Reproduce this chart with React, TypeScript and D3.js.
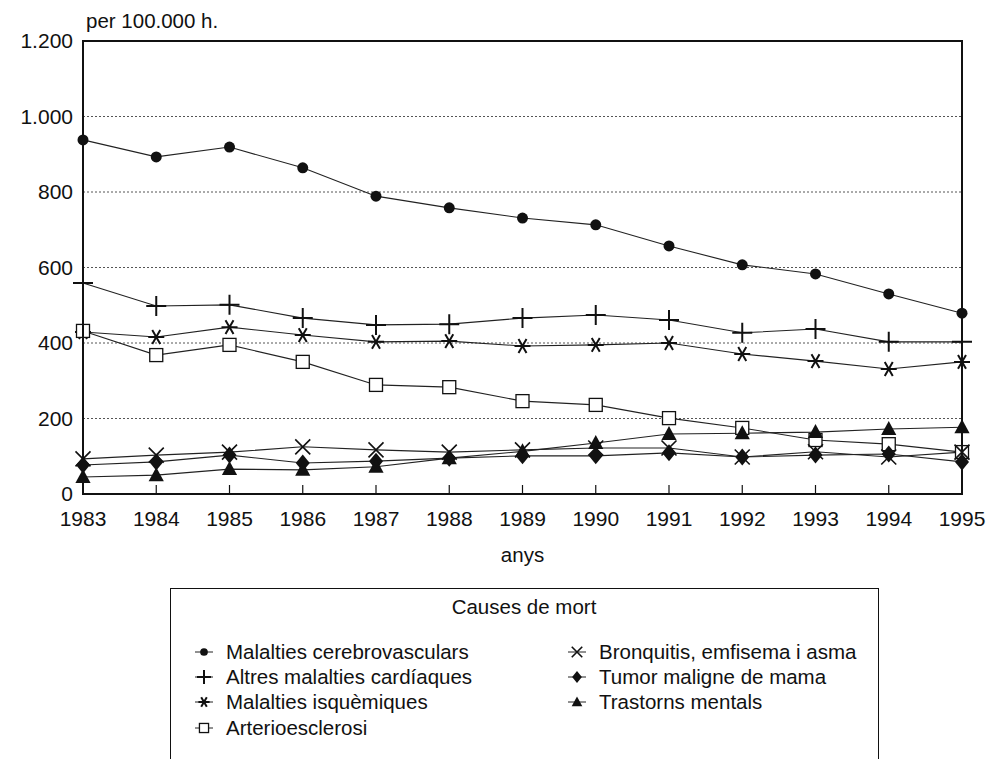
import React from 'react';
import * as d3 from 'd3';

const years = [1983, 1984, 1985, 1986, 1987, 1988, 1989, 1990, 1991, 1992, 1993, 1994, 1995];
const cerebrovasculars = [938, 893, 919, 864, 789, 758, 731, 713, 657, 607, 583, 530, 479];
const cardiaques = [559, 498, 501, 466, 448, 450, 466, 474, 461, 427, 437, 403, 403];
const isquemiques = [429, 416, 442, 421, 403, 405, 392, 395, 400, 371, 352, 331, 350];
const arterioesclerosi = [432, 368, 395, 350, 289, 283, 246, 236, 201, 175, 143, 132, 111];
const bronquitis = [93, 103, 111, 125, 117, 111, 117, 122, 122, 98, 112, 98, 111];
const tumorMama = [77, 85, 103, 82, 87, 95, 101, 101, 109, 98, 103, 106, 85];
const trastorns = [45, 50, 66, 64, 72, 95, 113, 135, 159, 161, 164, 172, 177];
const yTicks = [0, 200, 400, 600, 800, 1000, 1200];

type Sym = 'circle' | 'plus' | 'star' | 'square' | 'x' | 'diamond' | 'triangle';
const series: { name: string; values: number[]; sym: Sym }[] = [
  { name: 'Malalties cerebrovasculars', values: cerebrovasculars, sym: 'circle' },
  { name: 'Altres malalties cardíaques', values: cardiaques, sym: 'plus' },
  { name: 'Malalties isquèmiques', values: isquemiques, sym: 'star' },
  { name: 'Arterioesclerosi', values: arterioesclerosi, sym: 'square' },
  { name: 'Bronquitis, emfisema i asma', values: bronquitis, sym: 'x' },
  { name: 'Tumor maligne de mama', values: tumorMama, sym: 'diamond' },
  { name: 'Trastorns mentals', values: trastorns, sym: 'triangle' },
];

const locale = d3.formatLocale({ decimal: ',', thousands: '.', grouping: [3], currency: ['', ''] });
const fmt = locale.format(',');

function Marker({ sym, x, y, s = 1 }: { sym: Sym; x: number; y: number; s?: number }) {
  const c = '#111';
  switch (sym) {
    case 'circle':
      return <circle cx={x} cy={y} r={5.5 * s} fill={c} />;
    case 'plus': {
      const h = 10 * s;
      return <path d={`M${x - h},${y}H${x + h}M${x},${y - h}V${y + h}`} stroke={c} strokeWidth={2} fill="none" />;
    }
    case 'star': {
      const h = 8 * s;
      const a = h * Math.cos(Math.PI / 6), b = h * Math.sin(Math.PI / 6);
      return (
        <path d={`M${x},${y - h}V${y + h}M${x - a},${y - b}L${x + a},${y + b}M${x - a},${y + b}L${x + a},${y - b}`}
          stroke={c} strokeWidth={2} fill="none" transform={`rotate(90 ${x} ${y})`} />
      );
    }
    case 'square': {
      const h = 6.5 * s;
      return <rect x={x - h} y={y - h} width={2 * h} height={2 * h} fill="#fff" stroke={c} strokeWidth={1.3} />;
    }
    case 'x': {
      const h = 7.5 * s;
      return <path d={`M${x - h},${y - h}L${x + h},${y + h}M${x - h},${y + h}L${x + h},${y - h}`} stroke={c} strokeWidth={1.6} fill="none" />;
    }
    case 'diamond': {
      const h = 8.5 * s, w = 7 * s;
      return <path d={`M${x},${y - h}L${x + w},${y}L${x},${y + h}L${x - w},${y}Z`} fill={c} />;
    }
    case 'triangle': {
      const h = 8 * s;
      return <path d={`M${x},${y - h}L${x + h * 0.95},${y + h * 0.75}L${x - h * 0.95},${y + h * 0.75}Z`} fill={c} />;
    }
  }
  return null;
}

export default function App() {
  const W = 998, H = 759;
  const left = 83, right = 962, top = 41, bottom = 494;
  const x = d3.scaleLinear().domain([years[0], years[years.length - 1]]).range([left, right]);
  const y = d3.scaleLinear().domain([0, 1200]).range([bottom, top]);
  const line = d3.line<number>().x((_, i) => x(years[i])).y((d) => y(d));
  const font = '"Liberation Sans", Arial, sans-serif';

  const legLeft = [0, 1, 2, 3];
  const legRight = [4, 5, 6];
  const rowY = [652, 677, 702, 728];

  return (
    <svg width={W} height={H} style={{ position: 'absolute', left: 0, top: 0, background: '#fff' }} fontFamily={font}>
      <rect x={0} y={0} width={W} height={H} fill="#fff" />
      {yTicks.filter((t) => t > 0 && t < 1200).map((t) => (
        <line key={t} x1={left} x2={right} y1={y(t)} y2={y(t)} stroke="#555" strokeWidth={1} strokeDasharray="2,2" />
      ))}
      {years.map((yr) => (
        <line key={yr} x1={x(yr)} x2={x(yr)} y1={bottom} y2={bottom - 9} stroke="#111" strokeWidth={1.2} />
      ))}
      {series.map((s) => (
        <path key={s.name} d={line(s.values) || ''} fill="none" stroke="#222" strokeWidth={1.1} />
      ))}
      {series.map((s) =>
        s.values.map((v, i) => <Marker key={s.name + i} sym={s.sym} x={x(years[i])} y={y(v)} />)
      )}
      <rect x={left} y={top} width={right - left} height={bottom - top} fill="none" stroke="#111" strokeWidth={2} />
      {yTicks.map((t) => (
        <text key={t} x={73} y={y(t)} dy="0.35em" textAnchor="end" fontSize={21} fill="#111">{fmt(t)}</text>
      ))}
      {years.map((yr) => (
        <text key={yr} x={x(yr)} y={519} dy="0.35em" textAnchor="middle" fontSize={21} fill="#111">{yr}</text>
      ))}
      <text x={86} y={28} fontSize={20.5} fill="#111">per 100.000 h.</text>
      <text x={(left + right) / 2} y={555} dy="0.35em" textAnchor="middle" fontSize={20.5} fill="#111">anys</text>

      <rect x={170.5} y={588.5} width={708} height={200} fill="#fff" stroke="#111" strokeWidth={1} />
      <text x={524} y={607} dy="0.35em" textAnchor="middle" fontSize={20.5} fill="#111">Causes de mort</text>
      {legLeft.map((si, r) => (
        <g key={si}>
          <line x1={195} x2={213} y1={rowY[r]} y2={rowY[r]} stroke="#222" strokeWidth={1} />
          <Marker sym={series[si].sym} x={204} y={rowY[r]} s={0.7} />
          <text x={226} y={rowY[r]} dy="0.35em" fontSize={20.5} fill="#111">{series[si].name}</text>
        </g>
      ))}
      {legRight.map((si, r) => (
        <g key={si}>
          <line x1={568} x2={586} y1={rowY[r]} y2={rowY[r]} stroke="#222" strokeWidth={1} />
          <Marker sym={series[si].sym} x={577} y={rowY[r]} s={0.7} />
          <text x={599} y={rowY[r]} dy="0.35em" fontSize={20.5} fill="#111">{series[si].name}</text>
        </g>
      ))}
    </svg>
  );
}
